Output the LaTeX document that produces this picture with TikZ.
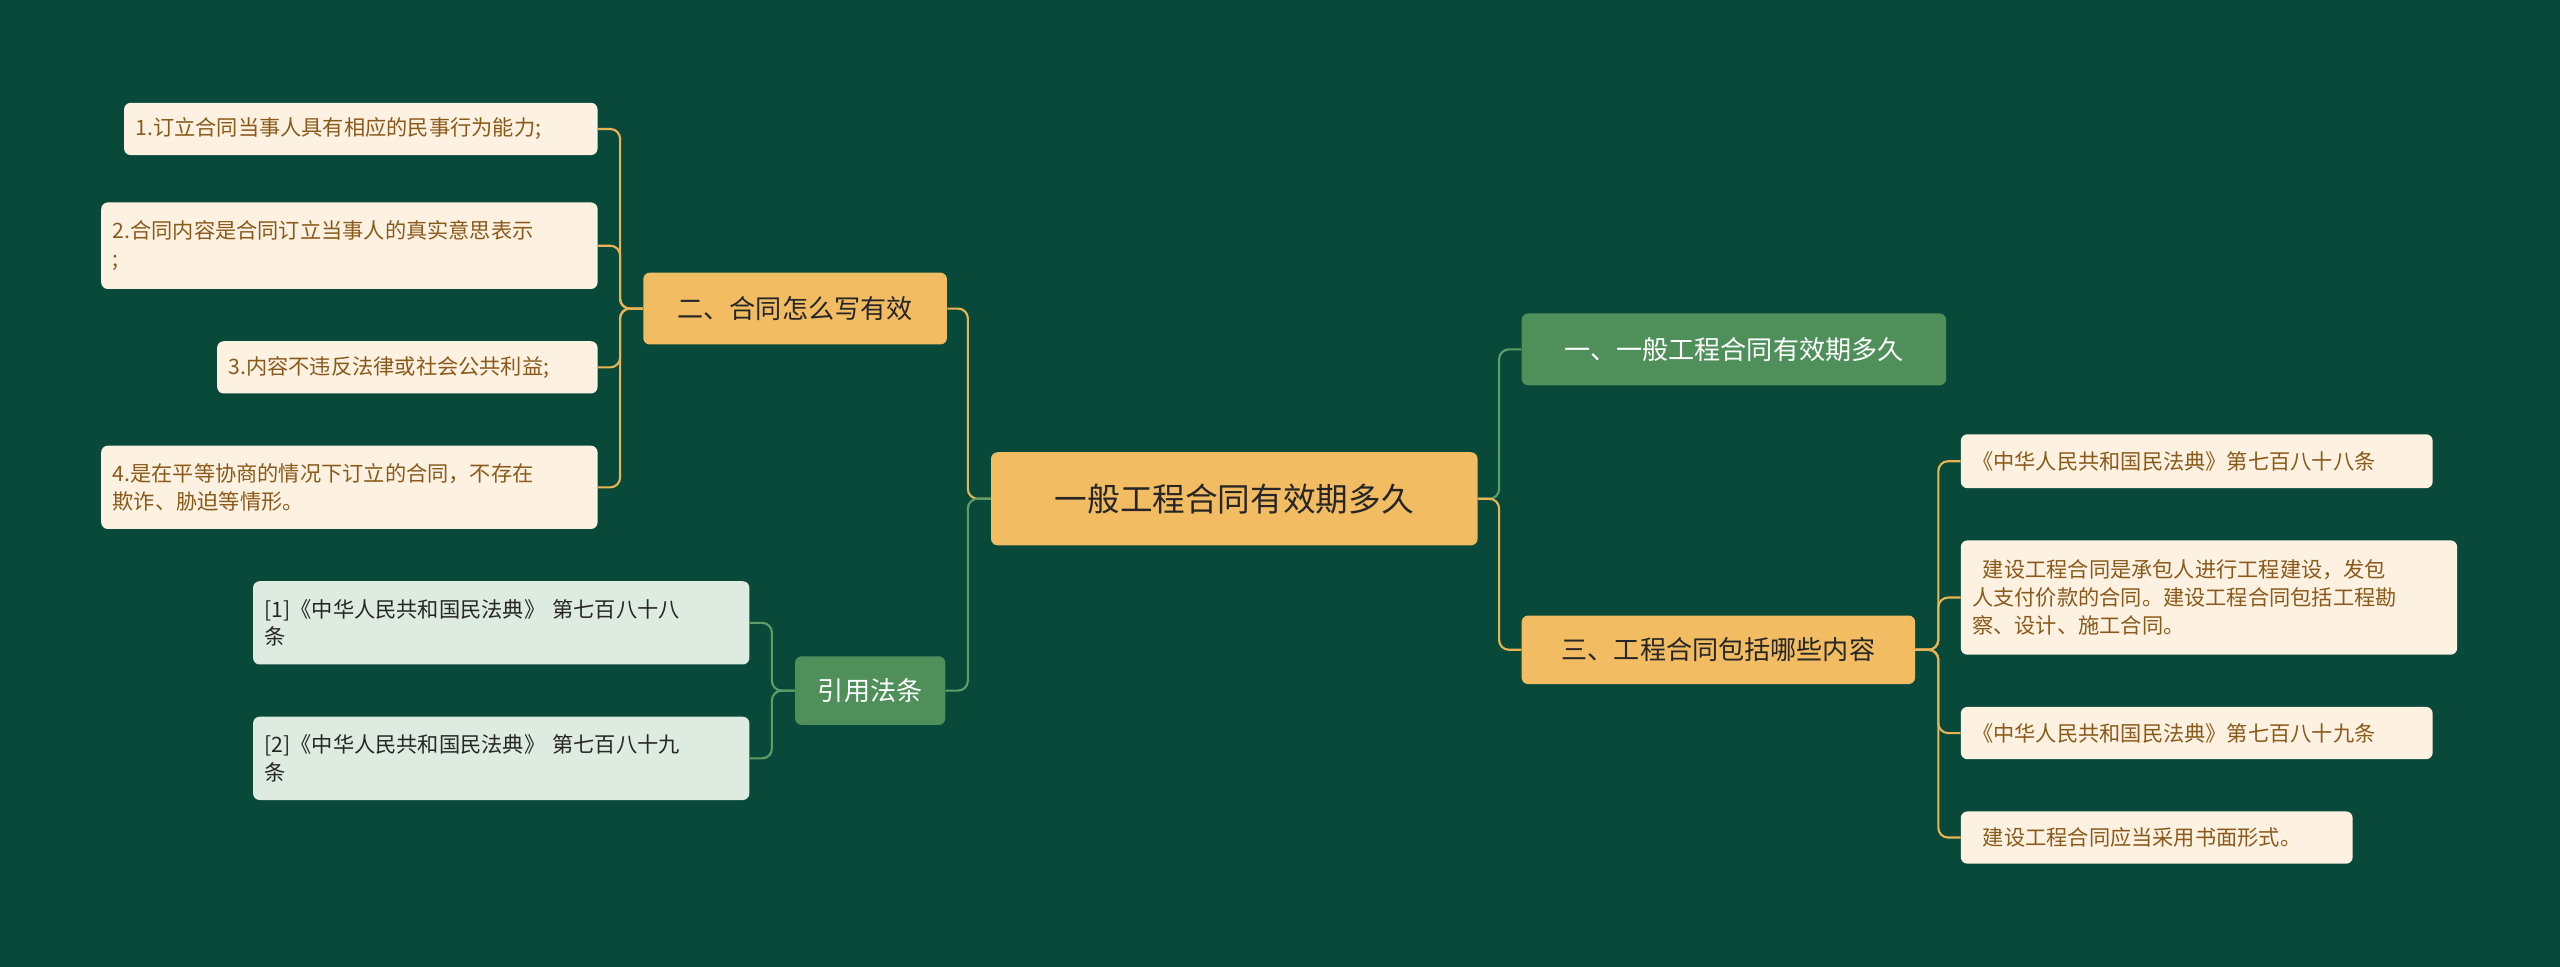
\documentclass[tikz,border=0pt]{standalone}
\usepackage{fontspec}
\setmainfont{Noto Sans CJK SC}
\definecolor{bg}{HTML}{08493A}
\definecolor{org}{HTML}{F2BC62}
\definecolor{grn}{HTML}{4E8F5A}
\definecolor{crm}{HTML}{FDF1E2}
\definecolor{lgr}{HTML}{DDEBE0}
\definecolor{brn}{HTML}{8A5A1A}
\definecolor{olin}{HTML}{E8B456}
\definecolor{glin}{HTML}{5E9E66}
\begin{document}
\begin{tikzpicture}[x=1pt,y=1pt,
 box/.style={rounded corners=4pt,inner sep=0pt,align=center},
 ob/.style={box,fill=org,text=black!85},
 gb/.style={box,fill=grn,text=white},
 leaf/.style={rounded corners=4pt,inner xsep=7pt,inner ysep=0pt,align=left,font=\fontsize{13}{17}\selectfont},
 cl/.style={leaf,fill=crm,text=brn},
 gl/.style={leaf,fill=lgr,text=black!85},
 ol/.style={olin,line width=1.3pt,rounded corners=6pt},
 gll/.style={glin,line width=1.3pt,rounded corners=6pt}]
\fill[bg] (0,0) rectangle (1568,592);
\useasboundingbox (0,0) rectangle (1568,592);
\node[ob,minimum width=298,minimum height=57,font=\fontsize{20}{24}\selectfont] (c) at (756,286.5) {一般工程合同有效期多久};
\node[ob,minimum width=186,minimum height=44,font=\fontsize{16}{20}\selectfont] (b2) at (487,403) {二、合同怎么写有效};
\node[gb,minimum width=92,minimum height=42,font=\fontsize{16}{20}\selectfont] (ref) at (533,169) {引用法条};
\node[gb,minimum width=260,minimum height=44,font=\fontsize{16}{20}\selectfont] (b1) at (1062,378) {一、一般工程合同有效期多久};
\node[ob,minimum width=241,minimum height=42,font=\fontsize{16}{20}\selectfont] (b3) at (1052.5,194) {三、工程合同包括哪些内容};
\node[cl,text width=276,minimum height=32] (l1) at (221,513) {1.订立合同当事人具有相应的民事行为能力;};
\node[cl,text width=290,minimum height=53] (l2) at (214,441.5) {2.合同内容是合同订立当事人的真实意思表示\\;};
\node[cl,text width=219,minimum height=32] (l3) at (249.5,367) {3.内容不违反法律或社会公共利益;};
\node[cl,text width=290,minimum height=51] (l4) at (214,293.5) {4.是在平等协商的情况下订立的合同，不存在\\欺诈、胁迫等情形。};
\node[gl,text width=290,minimum height=51] (r1) at (307,210.5) {[1]《中华人民共和国民法典》 第七百八十八\\条};
\node[gl,text width=290,minimum height=51] (r2) at (307,127.5) {[2]《中华人民共和国民法典》 第七百八十九\\条};
\node[cl,text width=275,minimum height=33] (q1) at (1345.5,309.5) {《中华人民共和国民法典》第七百八十八条};
\node[cl,text width=290,minimum height=70] (q2) at (1353,226) {\hspace{0.5em}建设工程合同是承包人进行工程建设，发包\\人支付价款的合同。建设工程合同包括工程勘\\察、设计、施工合同。};
\node[cl,text width=275,minimum height=32] (q3) at (1345.5,143) {《中华人民共和国民法典》第七百八十九条};
\node[cl,text width=226,minimum height=32] (q4) at (1321,79) {\hspace{0.5em}建设工程合同应当采用书面形式。};
\draw[ol] (c.west) -- ++(-14,0) |- (b2.east);
\draw[gll] (c.west) -- ++(-14,0) |- (ref.east);
\draw[gll] (c.east) -- ++(13,0) |- (b1.west);
\draw[ol] (c.east) -- ++(13,0) |- (b3.west);
\foreach \n in {l1,l2,l3,l4} \draw[ol] (b2.west) -- ++(-14,0) |- (\n.east);
\foreach \n in {r1,r2} \draw[gll] (ref.west) -- ++(-14,0) |- (\n.east);
\foreach \n in {q1,q2,q3,q4} \draw[ol] (b3.east) -- ++(14,0) |- (\n.west);
\end{tikzpicture}
\end{document}
